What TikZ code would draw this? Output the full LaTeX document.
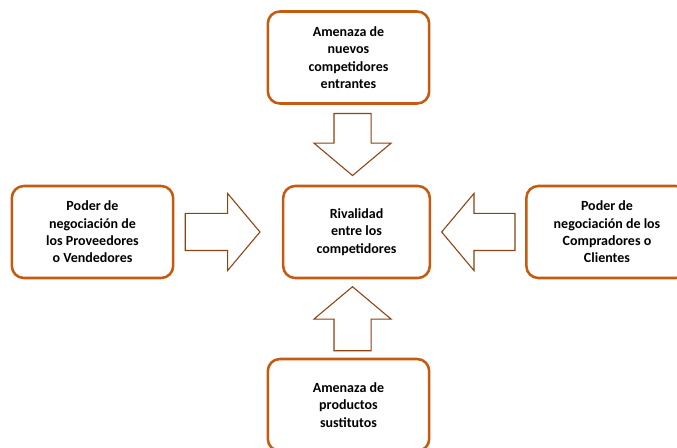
\documentclass[tikz,border=0pt]{standalone}
\usepackage{fontspec}
\setmainfont{Carlito}
\usepackage{tikz}
\usetikzlibrary{shapes,shapes.arrows,calc}
\definecolor{boxorange}{RGB}{197, 90, 17}
\definecolor{arrowbrown}{RGB}{140, 66, 18}
\tikzstyle{force}=[rectangle, draw=boxorange, line width=1.9pt, rounded corners=9pt, align=center, minimum width=121pt, minimum height=69pt, font=\bfseries\fontsize{10.5}{13}\selectfont]
\tikzstyle{push}=[single arrow, draw=arrowbrown, line width=0.8pt, fill=white, inner sep=13.5pt, single arrow head extend=15pt, single arrow tip angle=100]

\begin{document}
\begin{tikzpicture}[x=0.75pt, y=-0.75pt]
      %
      \path[use as bounding box] (0,0) rectangle (677,448);
      %
      % Rivalidad entre los competidores
      %
      \path node[force, minimum width=110pt] (rivalry) at (356.5,232) {Rivalidad\\ entre los\\ competidores};
      %
      % Amenaza de nuevos competidores --> Rivalidad
      %
      \path node[force] (entrants) at (348.5,57.5) {Amenaza de\\ nuevos\\ competidores\\ entrantes};
      \path node[push, minimum height=46.5pt, shape border rotate=270, yshift=6pt] (entrantsarrow) at ($(entrants.south)!0.5!(rivalry.north)$) {};
      %
      % Poder de los Proveedores --> Rivalidad
      %
      \path node[force] (suppliers) at (92.5,232) {Poder de\\ negociación de\\ los Proveedores\\ o Vendedores};
      \path node[push, minimum height=56pt, xshift=-10pt] (suppliersarrow) at ($(suppliers.east)!0.5!(rivalry.west)$) {};
      %
      % Poder de los Compradores --> Rivalidad
      %
      \path node[force] (buyers) at (607,232) {Poder de\\ negociación de los\\ Compradores o\\ Clientes};
      \path node[push, minimum height=55pt, shape border rotate=180, xshift=6pt] (buyersarrow) at ($(buyers.west)!0.5!(rivalry.east)$) {};
      %
      % Amenaza de productos sustitutos --> Rivalidad
      %
      \path node[force] (substitutes) at (348.5,405) {Amenaza de\\ productos\\ sustitutos};
      \path node[push, minimum height=48pt, shape border rotate=90, yshift=-6pt] (substitutesarrow) at ($(substitutes.north)!0.5!(rivalry.south)$) {};
      %
\end{tikzpicture}
\end{document}
